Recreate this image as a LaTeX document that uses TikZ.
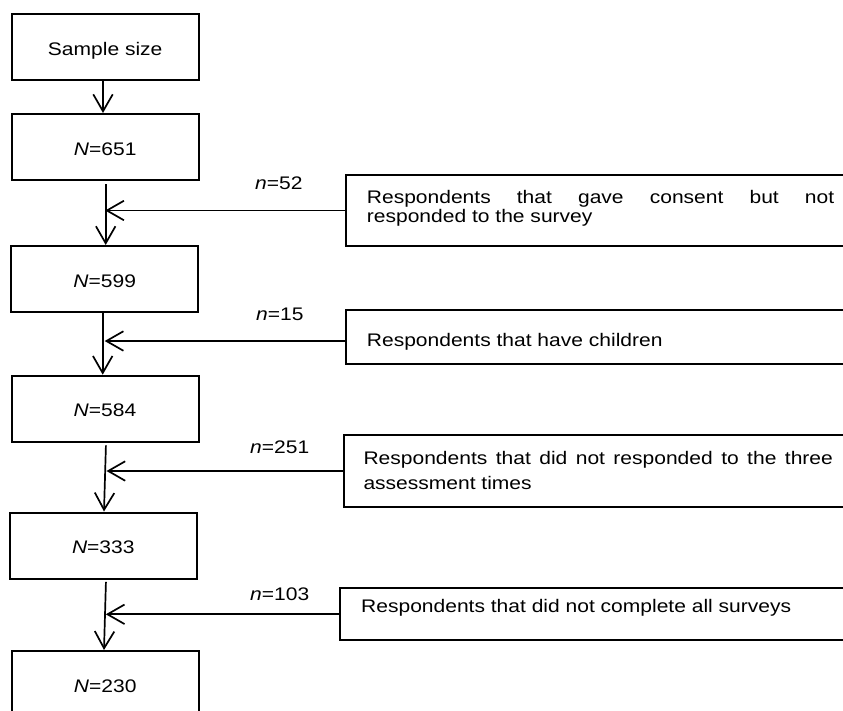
\documentclass[tikz,border=0pt]{standalone}
\usepackage{fontspec}
\setmainfont{Liberation Sans}[FakeStretch=1.155]
\usetikzlibrary{arrows.meta,calc}
\begin{document}
\begin{tikzpicture}[x=1pt,y=-1pt,
  lbox/.style={draw,line width=2pt,minimum width=187pt,minimum height=66pt,inner sep=0pt,text height=16pt,text depth=0pt,font=\fontsize{18.2}{19.4}\selectfont},
  rbox/.style={draw,line width=2pt,inner sep=0pt,anchor=north west,minimum width=540pt},
  txt/.style={inner sep=0pt,anchor=base west,font=\fontsize{18.2}{19.4}\selectfont},
  arr/.style={line width=1.7pt,-{Straight Barb[length=17pt,width=19.5pt]}}
]
\useasboundingbox (0,0) rectangle (843,710);
\clip (0,0) rectangle (843,710);
\fill[white] (0,0) rectangle (843,710);

% left column
\node[lbox] (b1) at (105.2,47) {Sample size};
\node[lbox] (b2) at (105.2,147) {\textit{N}=651};
\node[lbox] (b3) at (104.7,279) {\textit{N}=599};
\node[lbox] (b4) at (105,408.7) {\textit{N}=584};
\node[lbox] (b5) at (103.3,545.5) {\textit{N}=333};
\node[lbox] (b6) at (105.2,684) {\textit{N}=230};

% right boxes
\node[rbox,minimum height=71pt] (r1) at (345,174) {};
\node[rbox,minimum height=54pt] (r2) at (345,309.3) {};
\node[rbox,minimum height=72pt] (r3) at (342.7,434) {};
\node[rbox,minimum height=52pt] (r4) at (339.3,587.3) {};

% right texts
\node[txt] (t1a) at (366.7,203.3) {\makebox[467.3pt][s]{Respondents that gave consent but not}};
\node[txt] (t1b) at (366.7,222.7) {responded to the survey};
\node[txt] (t2) at (366.7,346.7) {Respondents that have children};
\node[txt] (t3a) at (363.3,464.3) {\makebox[469.4pt][s]{Respondents that did not responded to the three}};
\node[txt] (t3b) at (363.3,489.3) {assessment times};
\node[txt] (t4) at (361,612.3) {Respondents that did not complete all surveys};

% counts
\node[txt] (n1) at (255,189.3) {\textit{n}=52};
\node[txt] (n2) at (256,320) {\textit{n}=15};
\node[txt] (n3) at (250,453.3) {\textit{n}=251};
\node[txt] (n4) at (250,600.7) {\textit{n}=103};

% vertical connectors
\draw[arr] ([xshift=-2.2pt]b1.south) -- ([xshift=-2.2pt]b2.north);
\draw[arr,shorten <=3pt] ([xshift=0.5pt]b2.south) -- ([xshift=1pt]b3.north);
\draw[arr] ([xshift=-2pt]b3.south) -- ([xshift=-2.3pt]b4.north);
\draw[arr,shorten <=2.6pt] ([xshift=1pt]b4.south) -- ([xshift=0.7pt]b5.north);
\draw[arr,shorten <=2.4pt] ([xshift=2.7pt]b5.south) -- ([xshift=-1.2pt]b6.north);

% horizontal connectors
\draw[arr] (r1.west) -- (r1.west -| b2.south);
\draw[arr] ([yshift=-3.7pt]r2.west) -- ([yshift=-3.7pt]r2.west -| b3.south);
\draw[arr] (r3.west) -- ($(r3.west -| b4.south)+(1.5,0)$);
\draw[arr] (r4.west) -- ($(r4.west -| b5.south)+(2.5,0)$);
\end{tikzpicture}
\end{document}
